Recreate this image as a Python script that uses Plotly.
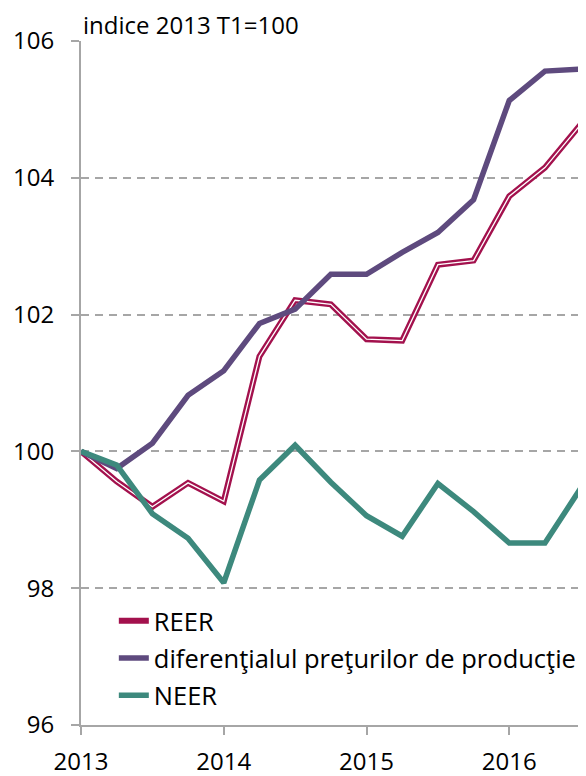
import plotly.graph_objects as go

quarters = list(range(15))  # 2013 T1 .. 2016 T3
year_ticks = [0, 4, 8, 12]
year_labels = ["2013", "2014", "2015", "2016"]

reer = [100.0, 99.56, 99.19, 99.54, 99.27, 101.39, 102.21, 102.15, 101.64, 101.62,
        102.73, 102.79, 103.73, 104.15, 104.78]
dif_pret = [100.0, 99.75, 100.12, 100.82, 101.18, 101.87, 102.08, 102.59, 102.59, 102.91,
            103.20, 103.68, 105.13, 105.56, 105.59]
neer = [100.0, 99.80, 99.09, 98.73, 98.08, 99.58, 100.09, 99.55, 99.06, 98.76,
        99.53, 99.12, 98.66, 98.66, 99.46]

FONT = "Open Sans"
GRID = "#A6A6A6"

fig = go.Figure()
fig.add_trace(go.Scatter(x=quarters, y=reer, mode="lines", name="REER",
                         line=dict(color="#A3114D", width=6), legendgroup="a"))
fig.add_trace(go.Scatter(x=quarters, y=reer, mode="lines", name="REER",
                         line=dict(color="#FFFFFF", width=1.3), showlegend=False,
                         hoverinfo="skip", legendgroup="a"))
fig.add_trace(go.Scatter(x=quarters, y=dif_pret, mode="lines",
                         name="diferenţialul preţurilor de producţie",
                         line=dict(color="#5E4A7E", width=5.5), legendgroup="b"))
fig.add_trace(go.Scatter(x=quarters, y=neer, mode="lines", name="NEER",
                         line=dict(color="#3D897D", width=5.5), legendgroup="c"))

# page body has an 8px default margin, so the figure is sized to fit the 586x776 window
fig.update_layout(
    width=578, height=768,
    margin=dict(l=73, r=0, t=33, b=51),
    paper_bgcolor="white", plot_bgcolor="white",
    font=dict(family=FONT, size=23, color="#000000"),
    showlegend=True,
    legend=dict(x=0.065, y=0.186, xanchor="left", yanchor="top",
                font=dict(size=25.5, family=FONT), bgcolor="rgba(0,0,0,0)",
                tracegroupgap=1, itemwidth=30),
    annotations=[dict(text="indice 2013 T1=100", xref="paper", yref="paper",
                      x=0.0, y=1, xanchor="left", yanchor="bottom", yshift=-2,
                      showarrow=False, font=dict(size=24, family=FONT))],
)
fig.update_xaxes(range=[0, 14.15], tickvals=year_ticks, ticktext=year_labels,
                 showgrid=False, zeroline=False, showline=True, linecolor=GRID,
                 linewidth=2, ticks="outside", ticklen=8, tickwidth=2, tickcolor=GRID,
                 tickfont=dict(size=24, family=FONT), ticklabelstandoff=6,
                 automargin=False)
fig.update_yaxes(range=[96, 106], dtick=2, showgrid=True, gridcolor=GRID,
                 gridwidth=1.5, griddash="8px,6px", zeroline=False, showline=True,
                 linecolor=GRID, linewidth=2, ticks="outside", ticklen=8, tickwidth=2,
                 tickcolor=GRID, tickfont=dict(size=24, family=FONT),
                 ticklabelstandoff=12, automargin=False)

fig.write_html("out.html")
